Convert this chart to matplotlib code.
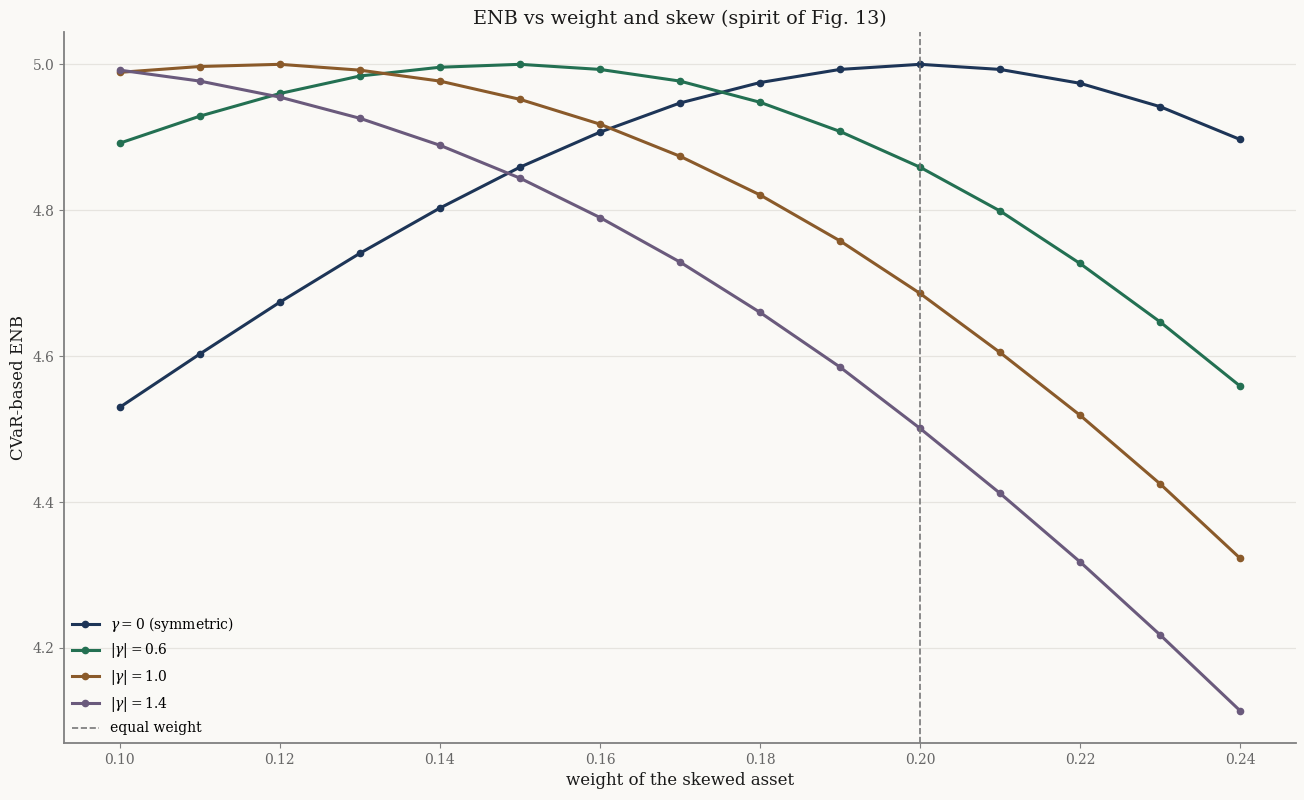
import matplotlib.pyplot as plt
import numpy as np

# data
weights = [0.10, 0.11, 0.12, 0.13, 0.14, 0.15, 0.16, 0.17, 0.18, 0.19, 0.20, 0.21, 0.22, 0.23, 0.24]
enb_g0 = [4.530, 4.603, 4.674, 4.741, 4.803, 4.859, 4.907, 4.947, 4.975, 4.993, 5.000, 4.993, 4.974, 4.942, 4.897]
enb_g06 = [4.892, 4.929, 4.960, 4.984, 4.996, 5.000, 4.993, 4.977, 4.948, 4.908, 4.859, 4.799, 4.727, 4.647, 4.559]
enb_g10 = [4.989, 4.997, 5.000, 4.992, 4.977, 4.952, 4.918, 4.874, 4.821, 4.758, 4.686, 4.605, 4.519, 4.425, 4.323]
enb_g14 = [4.992, 4.977, 4.955, 4.926, 4.889, 4.844, 4.790, 4.729, 4.660, 4.585, 4.501, 4.412, 4.318, 4.218, 4.114]
labels = [r"$\gamma=0$ (symmetric)", r"$|\gamma|=0.6$", r"$|\gamma|=1.0$", r"$|\gamma|=1.4$"]
equal_w = 0.20

colors = ["#1d3557", "#237052", "#8a5a2a", "#6a5a7c"]
bg = "#faf9f6"

plt.rcParams['font.family'] = ['DejaVu Serif']
plt.rcParams['mathtext.fontset'] = 'dejavuserif'

fig = plt.figure(figsize=(13.04, 8), dpi=100, facecolor=bg)
ax = fig.add_axes([0.049, 0.07125, 0.9449, 0.88875])
ax.set_facecolor(bg)

for ys, lab, c in zip([enb_g0, enb_g06, enb_g10, enb_g14], labels, colors):
    ax.plot(weights, ys, marker='o', markersize=4.5, linewidth=2.2, color=c, label=lab)

ax.axvline(equal_w, color='#777777', linestyle='--', linewidth=1.2, label='equal weight')

ax.set_yticks([4.2, 4.4, 4.6, 4.8, 5.0])
ax.set_xticks([0.10, 0.12, 0.14, 0.16, 0.18, 0.20, 0.22, 0.24])
ax.grid(axis='y', color='#e6e4df', linewidth=0.9)
ax.set_axisbelow(True)
for s in ['top', 'right']:
    ax.spines[s].set_visible(False)
for s in ['left', 'bottom']:
    ax.spines[s].set_color('#808080')
    ax.spines[s].set_linewidth(1.3)
ax.tick_params(colors='#808080', labelcolor='#666666', labelsize=10)

ax.set_xlabel("weight of the skewed asset", fontsize=12, color='#1a1a1a')
ax.set_ylabel("CVaR-based ENB", fontsize=12, color='#1a1a1a')
ax.set_title("ENB vs weight and skew (spirit of Fig. 13)", fontsize=13.8, color='#1a1a1a')

ax.legend(loc='lower left', frameon=False, fontsize=10, borderaxespad=0.15,
          labelspacing=0.55)

fig.savefig("out.png", dpi=100, facecolor=bg)
